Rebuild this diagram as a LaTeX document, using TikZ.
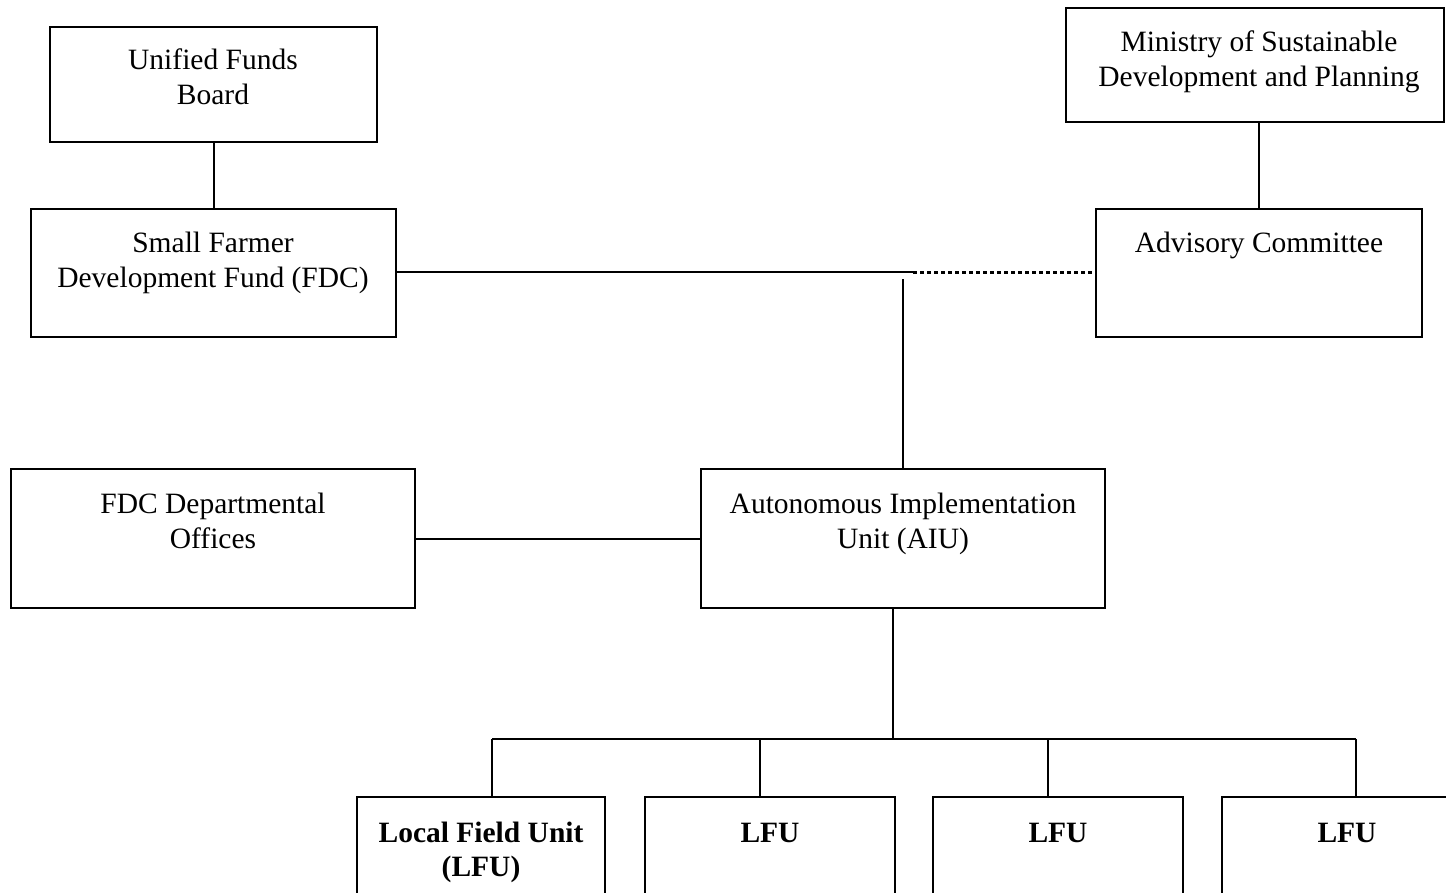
\documentclass[tikz,border=0pt]{standalone}
\usepackage{fontspec}
\setmainfont{Liberation Serif}
\newcommand{\rbox}[5]{\node[box, minimum width={(#4)-(#2)}, minimum height={(#5)-(#3)}] (#1) at ({((#2)+(#4))/2},{((#3)+(#5))/2}) {};}
\begin{document}
\begin{tikzpicture}[x=1pt,y=-1pt,
  box/.style={draw, line width=2pt, inner sep=0pt, outer sep=0pt},
  lbl/.style={align=center, font=\fontsize{29.5}{35}\selectfont, inner sep=0pt, anchor=base},
  blbl/.style={lbl, font=\fontsize{29.5}{34}\selectfont\bfseries},
  conn/.style={line width=2pt},
  dots/.style={line width=3pt, dash pattern=on 3.5pt off 3.5pt}]
\useasboundingbox (0,0) rectangle (1446,892);
\clip (0,0) rectangle (1446,892);
\rbox{ufb}{50}{27}{377}{142}
\rbox{min}{1066}{8}{1444}{122}
\rbox{fdc}{31}{209}{396}{337}
\rbox{adv}{1096}{209}{1422}{337}
\rbox{dept}{11}{469}{415}{608}
\rbox{aiu}{701}{469}{1105}{608}
\rbox{lfu1}{357}{797}{605}{950}
\rbox{lfu2}{645}{797}{895}{950}
\rbox{lfu3}{933}{797}{1183}{950}
\rbox{lfu4}{1222}{797}{1480}{950}
\node[lbl] (tufb) at (213,104) {Unified Funds\\Board};
\node[lbl] (tmin) at (1259,86) {Ministry of Sustainable\\Development and Planning};
\node[lbl] (tfdc) at (213,287) {Small Farmer\\Development Fund (FDC)};
\node[lbl] (tadv) at (1259,252) {Advisory Committee};
\node[lbl] (tdept) at (213,548) {FDC Departmental\\Offices};
\node[lbl] (taiu) at (903,548) {Autonomous Implementation\\Unit (AIU)};
\node[blbl] (tl1) at (481,876) {Local Field Unit\\(LFU)};
\node[blbl] (tl2) at (770,842) {LFU};
\node[blbl] (tl3) at (1058,842) {LFU};
\node[blbl] (tl4) at (1347,842) {LFU};
\draw[conn] (ufb.south) -- (ufb.south |- fdc.north);
\draw[conn] (adv.north |- min.south) -- (adv.north);
\coordinate (j) at (913,272);
\draw[conn] (fdc.east |- j) -- (j);
\draw[dots] (j) -- (adv.west |- j);
\coordinate (v) at (903,279);
\draw[conn] (v) -- (v |- aiu.north);
\draw[conn] (dept.east) -- (aiu.west);
\coordinate (bus) at (893,739);
\draw[conn] (bus |- aiu.south) -- (bus);
\coordinate (d1) at (492,739);
\coordinate (d2) at (760,739);
\coordinate (d3) at (1048,739);
\coordinate (d4) at (1356,739);
\draw[conn] (d1) -- (d4);
\draw[conn] (d1) -- (d1 |- lfu1.north);
\draw[conn] (d2) -- (d2 |- lfu2.north);
\draw[conn] (d3) -- (d3 |- lfu3.north);
\draw[conn] (d4) -- (d4 |- lfu4.north);
\end{tikzpicture}
\end{document}
